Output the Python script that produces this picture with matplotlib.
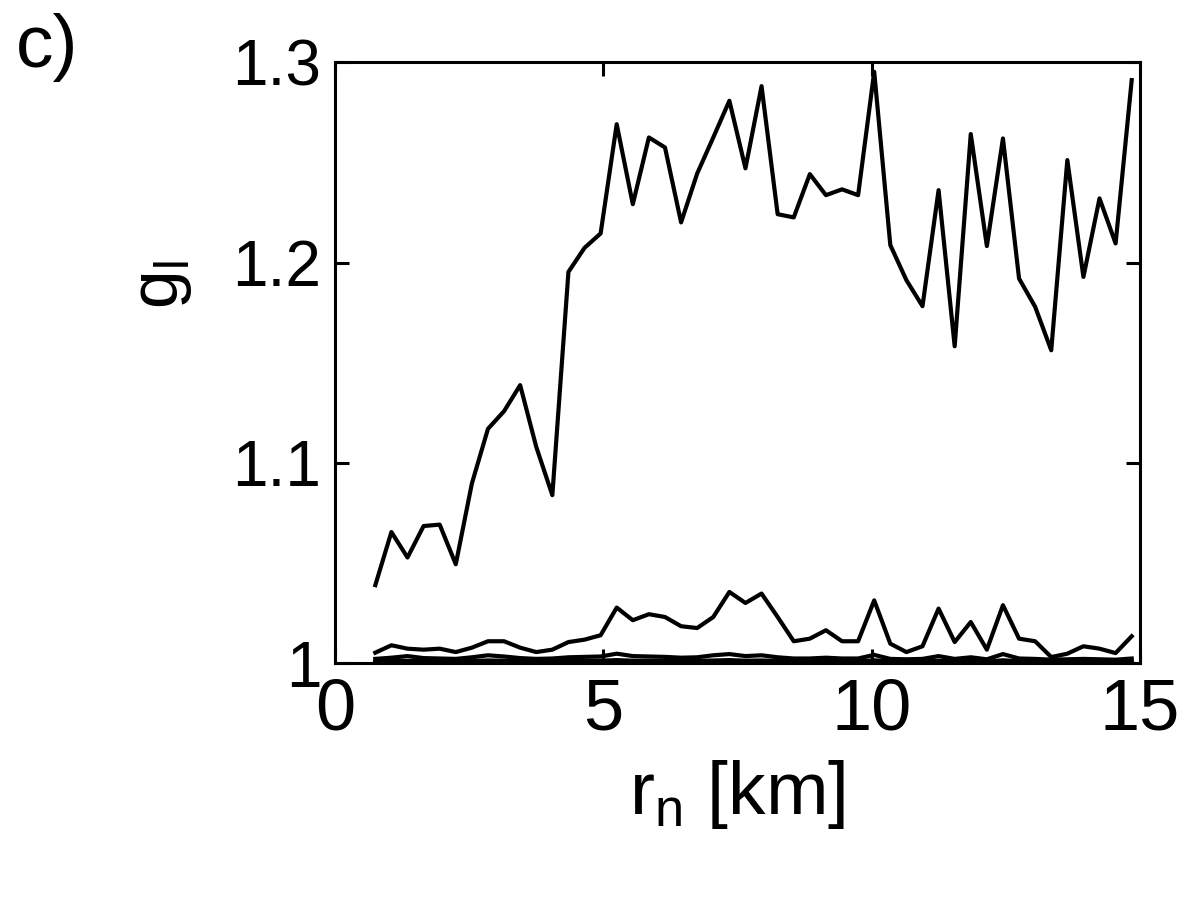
import numpy as np
import matplotlib
matplotlib.use("Agg")
import matplotlib.pyplot as plt

plt.rcParams['font.family'] = ['Liberation Sans', 'DejaVu Sans']

# distance grid (km)
r_n = np.arange(48) * 0.3 + 0.75

# g_l curves
g1 = [1.039, 1.0655, 1.0528, 1.0685, 1.0692, 1.0494, 1.0897, 1.117, 1.1258, 1.1388,
      1.108, 1.0839, 1.1953, 1.2073, 1.2145, 1.269, 1.2291, 1.2624, 1.2574, 1.22,
      1.2444, 1.2624, 1.2807, 1.247, 1.288, 1.2241, 1.2225, 1.2441, 1.2336, 1.2365,
      1.2336, 1.2952, 1.2087, 1.1912, 1.1782, 1.2361, 1.1582, 1.2641, 1.2082, 1.2619,
      1.192, 1.1779, 1.1562, 1.2511, 1.1928, 1.232, 1.2095, 1.291]
g2 = [1.0053, 1.009, 1.0073, 1.0068, 1.0073, 1.0056, 1.0078, 1.011, 1.011, 1.0078,
      1.0056, 1.0068, 1.0106, 1.0118, 1.014, 1.0278, 1.0215, 1.0245, 1.0231, 1.0185,
      1.0176, 1.0231, 1.0356, 1.0301, 1.0348, 1.0231, 1.011, 1.0123, 1.0165, 1.011,
      1.011, 1.0314, 1.0098, 1.0056, 1.0085, 1.0273, 1.0106, 1.0206, 1.0068, 1.029,
      1.0123, 1.011, 1.0031, 1.0048, 1.0085, 1.0073, 1.0051, 1.0135]
g3 = [1.0022, 1.0028, 1.0036, 1.0026, 1.0024, 1.0022, 1.0030, 1.0040, 1.0034, 1.0026,
      1.0022, 1.0024, 1.0030, 1.0032, 1.0034, 1.0048, 1.0036, 1.0034, 1.0032, 1.0028,
      1.0030, 1.0040, 1.0046, 1.0036, 1.0040, 1.0030, 1.0024, 1.0024, 1.0028, 1.0024,
      1.0024, 1.0042, 1.0022, 1.0020, 1.0022, 1.0036, 1.0022, 1.0030, 1.0020, 1.0046,
      1.0024, 1.0022, 1.0018, 1.0020, 1.0022, 1.0020, 1.0018, 1.0024]
g4 = [1.0010, 1.0012, 1.0012, 1.0011, 1.0010, 1.0010, 1.0012, 1.0014, 1.0013, 1.0011,
      1.0010, 1.0010, 1.0012, 1.0012, 1.0013, 1.0016, 1.0013, 1.0013, 1.0012, 1.0011,
      1.0012, 1.0014, 1.0016, 1.0013, 1.0014, 1.0012, 1.0010, 1.0010, 1.0011, 1.0010,
      1.0010, 1.0015, 1.0010, 1.0009, 1.0010, 1.0013, 1.0010, 1.0011, 1.0009, 1.0015,
      1.0010, 1.0010, 1.0009, 1.0009, 1.0010, 1.0009, 1.0009, 1.0010]
g5 = [1.0003] * 48

fig = plt.figure(figsize=(12.01, 9), dpi=100)
ax = fig.add_axes([0.279, 0.263, 0.670, 0.668])

for g in [g1, g2, g3, g4, g5]:
    ax.plot(r_n, g, c='k', lw=3.0)

ax.set_xlim(0, 15)
ax.set_ylim(1, 1.3)
ax.set_xticks([0, 5, 10, 15])
ax.set_xticklabels(['0', '5', '10', '15'])
ax.set_yticks([1, 1.1, 1.2, 1.3])
ax.set_yticklabels(['1', '1.1', '1.2', '1.3'])
ax.tick_params(direction='in', length=10, width=2.2,
               top=True, right=True)
ax.tick_params(axis='x', labelsize=52, pad=10)
ax.tick_params(axis='y', labelsize=46, pad=10)
for s in ax.spines.values():
    s.set_linewidth(2.2)

ax.set_xlabel(r'r$_{\mathregular{n}}$ [km]', fontsize=54, labelpad=10)
ax.set_ylabel(r'g$_{\mathregular{l}}$', fontsize=50)
ax.yaxis.set_label_coords(-0.175, 0.63)

fig.text(0.013, 0.985, 'c)', fontsize=54, ha='left', va='top')

plt.savefig("out.png", dpi=100)
